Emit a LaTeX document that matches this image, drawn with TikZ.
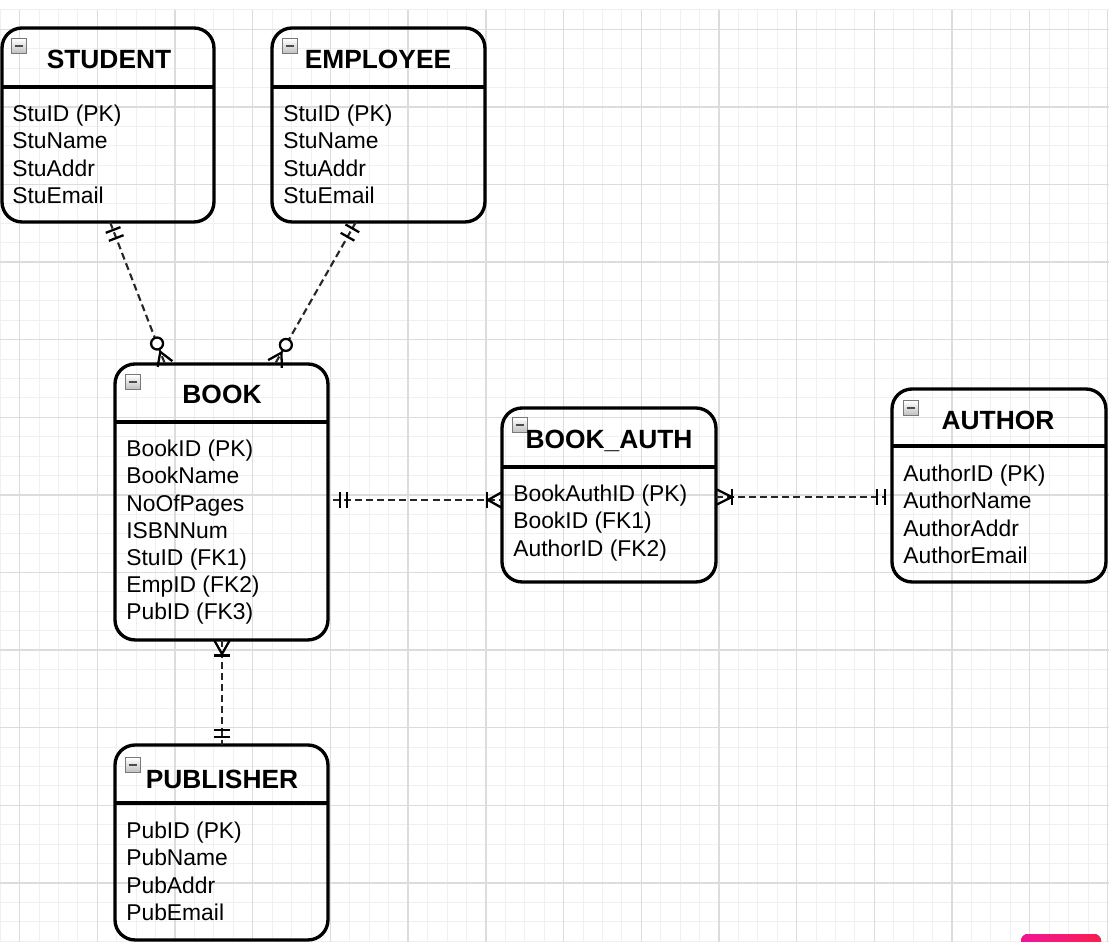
\documentclass[tikz,border=0pt]{standalone}
\usepackage{fontspec}
\setmainfont{Liberation Sans}
\usetikzlibrary{calc}

\definecolor{gridminor}{RGB}{240,240,240}
\definecolor{gridmajor}{RGB}{220,220,220}
\definecolor{icongray}{RGB}{120,120,120}
\definecolor{badgeleft}{RGB}{240,20,150}
\definecolor{badgeright}{RGB}{250,30,80}

% crow's foot parts: #1 end at the entity, #2 other end, #3 distance from #1
\newcommand{\erbar}[3]{\draw[ermark] ($(#1)!#3!(#2)!4.5pt!90:(#2)$) -- ($(#1)!#3!(#2)!4.5pt!-90:(#2)$);}
\newcommand{\erfoot}[3]{\draw[ermark] ($(#1)!4.5pt!90:(#2)$) -- ($(#1)!#3!(#2)$) -- ($(#1)!4.5pt!-90:(#2)$);}
\newcommand{\erzero}[3]{\draw[ermark, fill=white] ($(#1)!#3!(#2)$) circle (3.4pt);}

\tikzset{
    entity/.style={draw, line width=1.9pt, rounded corners=0.4cm, inner sep=0pt, outer sep=0pt, anchor=north west},
    header/.style={line width=1.9pt},
    title/.style={font=\fontsize{15}{18}\selectfont\bfseries, inner sep=0pt, anchor=base},
    attrs/.style={font=\fontsize{13}{15.4}\selectfont, align=left, inner sep=0pt, anchor=north west},
    icon/.style={draw=icongray, line width=0.7pt, top color=white, bottom color=gray!50, minimum size=0.29cm, inner sep=0pt,
        path picture={\draw[line width=1.3pt, black!70] ([xshift=1.7pt]path picture bounding box.west) -- ([xshift=-1.7pt]path picture bounding box.east);}},
    relation/.style={line width=1.2pt, dash pattern=on 4pt off 2.3pt, black!85},
    ermark/.style={line width=1.3pt, black, solid},
}

\begin{document}
\begin{tikzpicture}[x=0.02cm, y=-0.02cm]
        \useasboundingbox (0, 0) rectangle (1109, 942);

        % background grid
        \foreach \i in {0,...,57} \draw[gridminor, line width=0.5pt] ({0.2+19.425*\i}, 10) -- ({0.2+19.425*\i}, 942);
        \foreach \j in {0,...,48} \draw[gridminor, line width=0.5pt] (0, {9.9+19.4*\j}) -- (1109, {9.9+19.4*\j});
        \foreach \i in {0,...,14} \draw[gridmajor, line width=0.8pt] ({19.6+77.7*\i}, 10) -- ({19.6+77.7*\i}, 942);
        \foreach \j in {0,...,11} \draw[gridmajor, line width=0.8pt] (0, {29.3+77.6*\j}) -- (1109, {29.3+77.6*\j});

        % STUDENT
        \node[entity, minimum width=4.24cm, minimum height=3.88cm] (student) at (2, 28) {};
        \draw[header] (2, 87) -- (214, 87);
        \node[icon] (student-icon) at (19, 46) {};
        \node[title] (student-title) at (109, 69) {STUDENT};
        \node[attrs] (student-attrs) at (12, 105) {
            StuID (PK)\\
            StuName\\
            StuAddr\\
            StuEmail
        };

        % EMPLOYEE
        \node[entity, minimum width=4.26cm, minimum height=3.88cm] (employee) at (272, 28) {};
        \draw[header] (272, 87) -- (485, 87);
        \node[icon] (employee-icon) at (290, 46) {};
        \node[title] (employee-title) at (378, 69) {EMPLOYEE};
        \node[attrs] (employee-attrs) at (283, 105) {
            StuID (PK)\\
            StuName\\
            StuAddr\\
            StuEmail
        };

        % BOOK
        \node[entity, minimum width=4.26cm, minimum height=5.52cm] (book) at (115, 364) {};
        \draw[header] (115, 422) -- (328, 422);
        \node[icon] (book-icon) at (133, 382) {};
        \node[title] (book-title) at (222, 404) {BOOK};
        \node[attrs] (book-attrs) at (126, 440) {
            BookID (PK)\\
            BookName\\
            NoOfPages\\
            ISBNNum\\
            StuID (FK1)\\
            EmpID (FK2)\\
            PubID (FK3)
        };

        % BOOK_AUTH
        \node[entity, minimum width=4.28cm, minimum height=3.48cm] (bookauth) at (502, 408) {};
        \draw[header] (502, 467) -- (716, 467);
        \node[icon] (bookauth-icon) at (520, 425) {};
        \node[title] (bookauth-title) at (609, 449) {BOOK\_AUTH};
        \node[attrs] (bookauth-attrs) at (513, 485) {
            BookAuthID (PK)\\
            BookID (FK1)\\
            AuthorID (FK2)
        };

        % AUTHOR
        \node[entity, minimum width=4.28cm, minimum height=3.86cm] (author) at (892, 389) {};
        \draw[header] (892, 446) -- (1106, 446);
        \node[icon] (author-icon) at (911, 408) {};
        \node[title] (author-title) at (998, 430) {AUTHOR};
        \node[attrs] (author-attrs) at (903, 465) {
            AuthorID (PK)\\
            AuthorName\\
            AuthorAddr\\
            AuthorEmail
        };

        % PUBLISHER
        \node[entity, minimum width=4.26cm, minimum height=3.9cm] (publisher) at (115, 745) {};
        \draw[header] (115, 803) -- (328, 803);
        \node[icon] (publisher-icon) at (133, 765) {};
        \node[title] (publisher-title) at (222, 788) {PUBLISHER};
        \node[attrs] (publisher-attrs) at (126, 822) {
            PubID (PK)\\
            PubName\\
            PubAddr\\
            PubEmail
        };

        % relationships
        \coordinate (stu-a) at ($(student.south west) + (108, 0)$);
        \coordinate (stu-b) at ($(book.north west) + (50, 0)$);
        \coordinate (emp-a) at ($(employee.south west) + (84, 0)$);
        \coordinate (emp-b) at ($(book.north west) + (160, 0)$);
        \coordinate (ba-a) at ($(book.north east) + (0, 136)$);
        \coordinate (ba-b) at ($(bookauth.north west) + (0, 92)$);
        \coordinate (au-a) at ($(bookauth.north east) + (0, 89)$);
        \coordinate (au-b) at ($(author.north west) + (0, 108)$);
        \coordinate (pub-a) at ($(book.south west) + (107, 0)$);
        \coordinate (pub-b) at ($(publisher.north west) + (107, 0)$);

        \draw[relation] (stu-a) -- (stu-b);
        \erbar{stu-a}{stu-b}{4.9pt} \erbar{stu-a}{stu-b}{9.8pt}
        \erfoot{stu-b}{stu-a}{7.4pt} \erzero{stu-b}{stu-a}{12.5pt}

        \draw[relation] (emp-a) -- (emp-b);
        \erbar{emp-a}{emp-b}{4.2pt} \erbar{emp-a}{emp-b}{9.7pt}
        \erfoot{emp-b}{emp-a}{7.4pt} \erzero{emp-b}{emp-a}{12.5pt}

        \draw[relation, shorten <=2.8pt] (ba-a) -- (ba-b);
        \erbar{ba-a}{ba-b}{6.8pt} \erbar{ba-a}{ba-b}{10.8pt}
        \erfoot{ba-b}{ba-a}{8pt} \erbar{ba-b}{ba-a}{8.5pt}

        \draw[relation, shorten >=4pt] (au-a) -- (au-b);
        \erfoot{au-a}{au-b}{9.1pt} \erbar{au-a}{au-b}{9.1pt}
        \erbar{au-b}{au-a}{4pt} \erbar{au-b}{au-a}{8.5pt}

        \draw[relation] (pub-a) -- (pub-b);
        \erfoot{pub-a}{pub-b}{8pt} \erbar{pub-a}{pub-b}{8.8pt}
        \erbar{pub-b}{pub-a}{4.5pt} \erbar{pub-b}{pub-a}{8.5pt}

        % corner badge
        \fill[left color=badgeleft, right color=badgeright, rounded corners=4] (1021, 946) -- (1021, 934) -- (1101, 934) -- (1101, 946);
    \end{tikzpicture}
\end{document}
